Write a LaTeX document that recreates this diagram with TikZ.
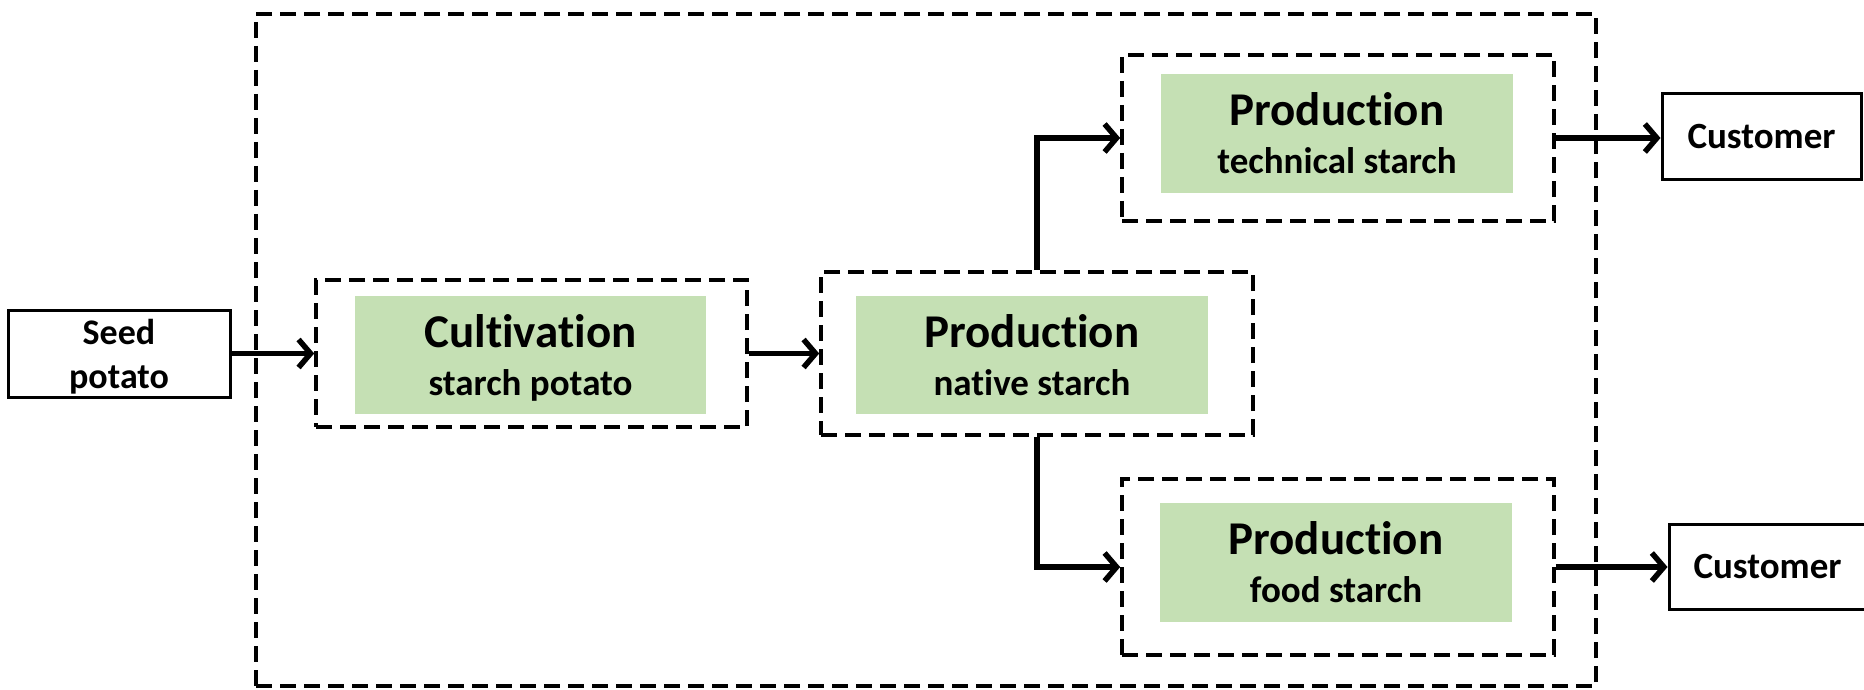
\documentclass[tikz,border=0pt]{standalone}
\usepackage{fontspec}
\setmainfont{Carlito}[RawFeature=-liga]
\usetikzlibrary{arrows.meta}
\definecolor{gfill}{RGB}{197,224,180}
\tikzset{
  dbox/.style={draw, line width=3.6pt, dash pattern=on 16pt off 8pt, rectangle, inner sep=0pt},
  gbox/.style={fill=gfill, rectangle, inner sep=0pt, align=center, font=\fontsize{37}{48}\selectfont\bfseries},
  wbox/.style={draw, line width=3pt, rectangle, inner sep=0pt, align=center},
  arr/.style={line width=5.5pt, -{Straight Barb[length=12pt,width=28pt,line width=5.5pt]}}
}
\newcommand{\bigtxt}[1]{{\fontsize{47}{48}\selectfont\bfseries #1}}
\newcommand{\nodep}[1]{\raisebox{0pt}[\height][0pt]{#1}}
\begin{document}
\begin{tikzpicture}[x=1pt,y=-1pt]
\useasboundingbox (0,0) rectangle (1864,690);
% outer
\node[dbox, minimum width=1340pt, minimum height=672pt] (outer) at (926,350) {};
% dashed boxes
\node[dbox, minimum width=431pt, minimum height=147pt] (cult) at (531.5,353.5) {};
\node[dbox, minimum width=432pt, minimum height=163pt] (nat) at (1037,353.5) {};
\node[dbox, minimum width=432pt, minimum height=166pt] (tech) at (1338,138) {};
\node[dbox, minimum width=432pt, minimum height=176pt] (food) at (1338,567) {};
% green boxes
\node[gbox, minimum width=351pt, minimum height=118pt] (gcult) at (530.5,355) {\bigtxt{Cultivation}\\\nodep{starch potato}};
\node[gbox, minimum width=352pt, minimum height=118pt] (gnat) at (1032,355) {\bigtxt{Production}\\\nodep{native starch}};
\node[gbox, minimum width=352pt, minimum height=119pt] (gtech) at (1337,133.5) {\bigtxt{Production}\\\nodep{technical starch}};
\node[gbox, minimum width=352pt, minimum height=119pt] (gfood) at (1336,562.5) {\bigtxt{Production}\\\nodep{food starch}};
% white boxes
\node[wbox, minimum width=222pt, minimum height=87pt, font=\fontsize{36}{44}\selectfont\bfseries] (seed) at (119,353.5) {Seed\\\nodep{potato}};
\node[wbox, minimum width=199pt, minimum height=86pt, font=\fontsize{37}{40}\selectfont\bfseries] (cust1) at (1761.5,137) {Customer};
\node[wbox, minimum width=197pt, minimum height=85pt, font=\fontsize{37}{40}\selectfont\bfseries] (cust2) at (1767.5,566.5) {Customer};
% connectors
\draw[arr] (seed.east) -- (cult.west);
\draw[arr] (cult.east) -- (nat.west);
\coordinate (tbend) at (nat.north |- tech.west);
\draw[arr] (nat.north) -- (tbend) -- (tech.west);
\coordinate (fbend) at (nat.south |- food.west);
\draw[arr] (nat.south) -- (fbend) -- (food.west);
\draw[arr] (tech.east) -- (cust1.west |- tech.east);
\draw[arr] (food.east) -- (cust2.west |- food.east);
\end{tikzpicture}
\end{document}
